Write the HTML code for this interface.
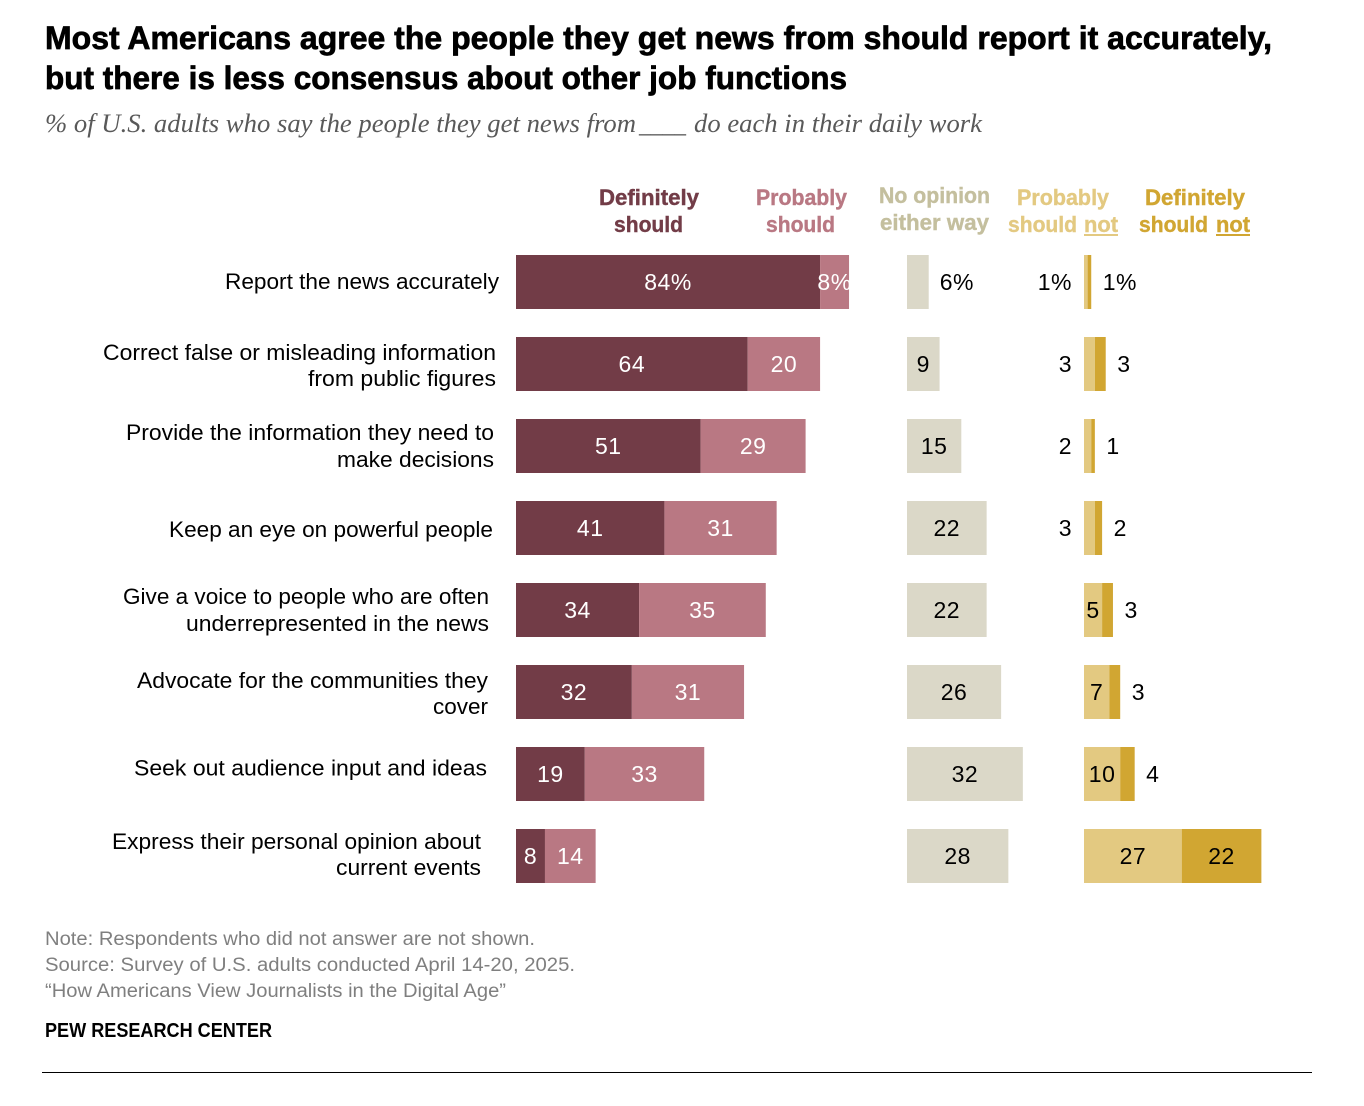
<!DOCTYPE html>
<html lang="en">
<head>
<meta charset="utf-8">
<title>Most Americans agree the people they get news from should report it accurately</title>
<style>
html,body{margin:0;padding:0;background:#fff;}
svg{display:block;}
text{font-family:"Liberation Sans",sans-serif;}
.title{font-size:32px;font-weight:700;fill:#000;stroke:#000;stroke-width:.7px;}
.subtitle{font-family:"Liberation Serif",serif;font-style:italic;font-size:26px;fill:#595959;}
.head{font-size:22px;font-weight:700;stroke-width:.4px;}
.cat{font-size:22px;fill:#000;}
.val{font-size:23px;}
.foot{font-size:19px;fill:#7f7f7f;}
</style>
</head>
<body>
<svg id="chart" width="1364" height="1106" viewBox="0 0 1364 1106" xmlns="http://www.w3.org/2000/svg">
  <rect x="0" y="0" width="1364" height="1106" fill="#fff"/>

  <text class="title" x="45" y="49" textLength="1227" lengthAdjust="spacingAndGlyphs">Most Americans agree the people they get news from should report it accurately,</text>
  <text class="title" x="45" y="89" textLength="802" lengthAdjust="spacingAndGlyphs">but there is less consensus about other job functions</text>
  <g>
    <text class="subtitle" x="45" y="132" textLength="591" lengthAdjust="spacingAndGlyphs">% of U.S. adults who say the people they get news from</text>
    <text class="subtitle" x="639" y="132" textLength="47" lengthAdjust="spacingAndGlyphs">____</text>
    <text class="subtitle" x="694" y="132" textLength="288" lengthAdjust="spacingAndGlyphs">do each in their daily work</text>
  </g>

  <g>
    <text class="head" fill="#723c47" stroke="#723c47" x="599" y="205" textLength="100" lengthAdjust="spacingAndGlyphs">Definitely</text>
    <text class="head" fill="#723c47" stroke="#723c47" x="614" y="232" textLength="69" lengthAdjust="spacingAndGlyphs">should</text>
    <text class="head" fill="#b97883" stroke="#b97883" x="756" y="205" textLength="91" lengthAdjust="spacingAndGlyphs">Probably</text>
    <text class="head" fill="#b97883" stroke="#b97883" x="766" y="232" textLength="69" lengthAdjust="spacingAndGlyphs">should</text>
    <text class="head" fill="#c4bf9e" stroke="#c4bf9e" x="879" y="203" textLength="111" lengthAdjust="spacingAndGlyphs">No opinion</text>
    <text class="head" fill="#c4bf9e" stroke="#c4bf9e" x="880" y="230" textLength="109" lengthAdjust="spacingAndGlyphs">either way</text>
    <text class="head" fill="#e3c981" stroke="#e3c981" x="1017" y="205" textLength="92" lengthAdjust="spacingAndGlyphs">Probably</text>
    <text class="head" fill="#e3c981" stroke="#e3c981" x="1008" y="232" textLength="69" lengthAdjust="spacingAndGlyphs">should</text>
    <text class="head" fill="#e3c981" stroke="#e3c981" x="1084" y="232" textLength="34" lengthAdjust="spacingAndGlyphs">not</text>
    <rect x="1084" y="234" width="34" height="2" fill="#e3c981"/>
    <text class="head" fill="#d1a632" stroke="#d1a632" x="1145" y="205" textLength="100" lengthAdjust="spacingAndGlyphs">Definitely</text>
    <text class="head" fill="#d1a632" stroke="#d1a632" x="1139" y="232" textLength="69" lengthAdjust="spacingAndGlyphs">should</text>
    <text class="head" fill="#d1a632" stroke="#d1a632" x="1216" y="232" textLength="34" lengthAdjust="spacingAndGlyphs">not</text>
    <rect x="1216" y="234" width="34" height="2" fill="#d1a632"/>
  </g>

  <g>
    <text class="cat" x="225" y="289" textLength="274" lengthAdjust="spacingAndGlyphs">Report the news accurately</text>
    <text class="cat" x="103" y="360" textLength="393" lengthAdjust="spacingAndGlyphs">Correct false or misleading information</text>
    <text class="cat" x="308" y="386" textLength="188" lengthAdjust="spacingAndGlyphs">from public figures</text>
    <text class="cat" x="126" y="440" textLength="368" lengthAdjust="spacingAndGlyphs">Provide the information they need to</text>
    <text class="cat" x="337" y="467" textLength="157" lengthAdjust="spacingAndGlyphs">make decisions</text>
    <text class="cat" x="169" y="537" textLength="324" lengthAdjust="spacingAndGlyphs">Keep an eye on powerful people</text>
    <text class="cat" x="123" y="604" textLength="366" lengthAdjust="spacingAndGlyphs">Give a voice to people who are often</text>
    <text class="cat" x="186" y="631" textLength="303" lengthAdjust="spacingAndGlyphs">underrepresented in the news</text>
    <text class="cat" x="137" y="688" textLength="351" lengthAdjust="spacingAndGlyphs">Advocate for the communities they</text>
    <text class="cat" x="433" y="714" textLength="55" lengthAdjust="spacingAndGlyphs">cover</text>
    <text class="cat" x="134" y="775.5" textLength="353" lengthAdjust="spacingAndGlyphs">Seek out audience input and ideas</text>
    <text class="cat" x="112" y="849" textLength="369" lengthAdjust="spacingAndGlyphs">Express their personal opinion about</text>
    <text class="cat" x="336" y="875" textLength="145" lengthAdjust="spacingAndGlyphs">current events</text>
  </g>

  <g id="marks"></g>

  <g>
    <text class="foot" x="45" y="945" textLength="490" lengthAdjust="spacingAndGlyphs">Note: Respondents who did not answer are not shown.</text>
    <text class="foot" x="45" y="971" textLength="530" lengthAdjust="spacingAndGlyphs">Source: Survey of U.S. adults conducted April 14-20, 2025.</text>
    <text class="foot" x="45" y="997" textLength="461" lengthAdjust="spacingAndGlyphs">“How Americans View Journalists in the Digital Age”</text>
    <text x="45" y="1037" font-size="20" font-weight="700" fill="#000" textLength="227" lengthAdjust="spacingAndGlyphs">PEW RESEARCH CENTER</text>
    <rect x="42" y="1072" width="1270" height="1" fill="#000"/>
  </g>
</svg>

<script>
const definitelyShould = [84, 64, 51, 41, 34, 32, 19, 8];
const probablyShould = [8, 20, 29, 31, 35, 31, 33, 14];
const noOpinion = [6, 9, 15, 22, 22, 26, 32, 28];
const probablyNot = [1, 3, 2, 3, 5, 7, 10, 27];
const definitelyNot = [1, 3, 1, 2, 3, 3, 4, 22];

const SVG_NS = 'http://www.w3.org/2000/svg';
const marks = document.getElementById('marks');
const UNIT = 3.62;
const BAR_H = 54;
const width = v => v * UNIT;
const rowTop = i => 255 + i * 82;
const rowMid = i => rowTop(i) + BAR_H / 2;
const printed = (v, i) => i === 0 ? v + '%' : String(v);

function drawBar(x, i, v, fill) {
  const r = document.createElementNS(SVG_NS, 'rect');
  
  
  r.setAttribute('x', x);
  r.setAttribute('y', rowTop(i));
  r.setAttribute('width', width(v));
  r.setAttribute('height', BAR_H);
  r.setAttribute('fill', fill);
  marks.appendChild(r);
}

function drawValue(x, i, v, anchor, fill) {
  const t = document.createElementNS(SVG_NS, 'text');
  
  
  t.setAttribute('class', 'val');
  t.setAttribute('x', x);
  t.setAttribute('y', rowMid(i) + 8);
  t.setAttribute('text-anchor', anchor);
  t.setAttribute('fill', fill);
  t.setAttribute('letter-spacing', '.5');
  t.textContent = printed(v, i);
  marks.appendChild(t);
}

definitelyShould.forEach((v, i) => {
  const x0 = 516;
  drawBar(x0, i, v, '#723c47');
  drawValue(x0 + width(v) / 2, i, v, 'middle', '#fff');
  const p = probablyShould[i];
  const x1 = x0 + width(v);
  drawBar(x1, i, p, '#b97883');
  drawValue(x1 + width(p) / 2, i, p, 'middle', '#fff');
});

noOpinion.forEach((v, i) => {
  const x0 = 907;
  drawBar(x0, i, v, '#dbd8c8');
  if (v <= 6) {
    drawValue(x0 + width(v) + 11, i, v, 'start', '#000');
  } else {
    drawValue(x0 + width(v) / 2, i, v, 'middle', '#000');
  }
});

probablyNot.forEach((v, i) => {
  const x0 = 1084;
  drawBar(x0, i, v, '#e3c981');
  if (v < 5) {
    drawValue(1072, i, v, 'end', '#000');
  } else {
    drawValue(x0 + width(v) / 2, i, v, 'middle', '#000');
  }
  const d = definitelyNot[i];
  const x1 = x0 + width(v);
  drawBar(x1, i, d, '#d1a632');
  if (d <= 4) {
    drawValue(x1 + width(d) + 11.5, i, d, 'start', '#000');
  } else {
    drawValue(x1 + width(d) / 2, i, d, 'middle', '#000');
  }
});
</script>
</body>
</html>
